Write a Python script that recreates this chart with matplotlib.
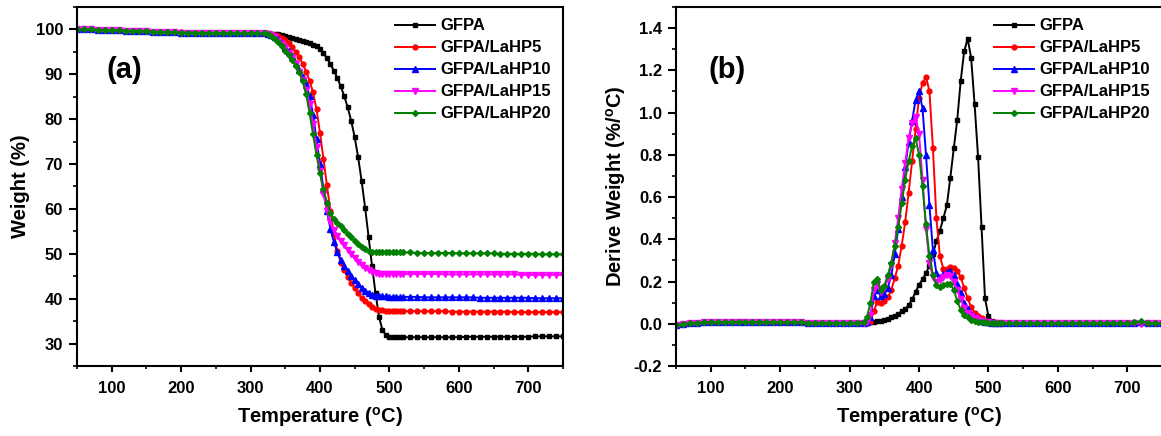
import matplotlib
matplotlib.use("Agg")
import matplotlib.pyplot as plt
from matplotlib.ticker import MultipleLocator

plt.rcParams['font.family'] = ['Liberation Sans', 'DejaVu Sans']
plt.rcParams['font.weight'] = 'bold'
plt.rcParams['mathtext.fontset'] = 'custom'
plt.rcParams['mathtext.rm'] = 'Liberation Sans:bold'
plt.rcParams['mathtext.bf'] = 'Liberation Sans:bold'

# temperature grid (degC)
temp = [50, 60, 70, 80, 90, 100, 110, 120, 130, 140, 150, 160, 170, 180, 190, 200,
        210, 220, 230, 240, 250, 260, 270, 280, 290, 300, 310, 320,
        325, 330, 335, 340, 345, 350, 355, 360, 365, 370, 375, 380, 385, 390, 395, 400,
        405, 410, 415, 420, 425, 430, 435, 440, 445, 450, 455, 460, 465, 470, 475, 480,
        485, 490, 495, 500, 505, 510, 515,
        520, 530, 540, 550, 560, 570, 580, 590, 600, 610, 620, 630, 640, 650, 660, 670,
        680, 690, 700, 710, 720, 730, 740, 750]

labels = ['GFPA', 'GFPA/LaHP5', 'GFPA/LaHP10', 'GFPA/LaHP15', 'GFPA/LaHP20']

# TGA weight (%)
w_gfpa = [100.0, 100.0, 100.0, 99.9, 99.9, 99.8, 99.8, 99.7, 99.7, 99.6, 99.6, 99.5, 99.5, 99.4,
          99.4, 99.4, 99.3, 99.3, 99.3, 99.3, 99.2, 99.2, 99.2, 99.2, 99.2, 99.1, 99.1, 99.1,
          99.1, 99.0, 99.0, 98.9, 98.7, 98.5, 98.3, 98.1, 97.9, 97.7,
          97.5, 97.2, 96.9, 96.6, 96.2, 95.6, 94.7, 93.6, 92.3, 90.8,
          89.2, 87.3, 85.1, 82.6, 79.6, 76.0, 71.5, 66.2, 60.3, 53.8,
          47.3, 41.2, 36.0, 33.0, 31.9, 31.5, 31.4, 31.4, 31.4,
          31.4, 31.4, 31.4, 31.4, 31.4, 31.4, 31.4, 31.4, 31.4, 31.5, 31.5, 31.5,
          31.5, 31.5, 31.5, 31.5, 31.5, 31.5, 31.5, 31.6, 31.6, 31.6, 31.6, 31.6]
w_lahp5 = [100.0, 100.0, 100.0, 99.9, 99.9, 99.8, 99.8, 99.7, 99.7, 99.6, 99.6, 99.5, 99.5, 99.4,
           99.4, 99.4, 99.3, 99.3, 99.3, 99.2, 99.2, 99.2, 99.2, 99.2, 99.1, 99.1, 99.1, 99.1,
           99.0, 98.9, 98.8, 98.5, 98.1, 97.6, 96.9, 96.0, 95.0, 93.8,
           92.4, 90.6, 88.6, 86.0, 82.2, 77.0, 71.2, 65.3, 59.6, 54.5,
           50.6, 48.0, 46.3, 44.8, 43.5, 42.3, 41.2, 40.2, 39.4, 38.7,
           38.1, 37.7, 37.5, 37.4, 37.3, 37.3, 37.2, 37.2, 37.2,
           37.2, 37.2, 37.2, 37.2, 37.2, 37.2, 37.2, 37.1, 37.1, 37.1, 37.1, 37.1,
           37.1, 37.1, 37.1, 37.1, 37.0, 37.0, 37.0, 37.0, 37.0, 37.0, 37.0, 37.0]
w_lahp10 = [100.0, 100.0, 100.0, 99.9, 99.9, 99.8, 99.8, 99.7, 99.7, 99.6, 99.6, 99.5, 99.5, 99.4,
            99.4, 99.3, 99.3, 99.3, 99.3, 99.2, 99.2, 99.2, 99.2, 99.1, 99.1, 99.1, 99.1, 99.1,
            99.0, 98.8, 98.4, 97.8, 97.0, 96.1, 95.1, 94.0, 92.6, 91.0,
            89.4, 87.8, 85.2, 81.0, 75.5, 70.0, 64.5, 59.6, 55.6, 52.6,
            50.4, 48.7, 47.3, 46.2, 45.1, 44.1, 43.2, 42.4, 41.8, 41.3,
            40.9, 40.7, 40.6, 40.5, 40.5, 40.4, 40.4, 40.4, 40.4,
            40.4, 40.4, 40.4, 40.3, 40.3, 40.3, 40.3, 40.3, 40.3, 40.3, 40.3, 40.2,
            40.2, 40.2, 40.2, 40.2, 40.2, 40.2, 40.2, 40.1, 40.1, 40.1, 40.1, 40.1]
w_lahp15 = [100.0, 100.0, 100.0, 99.9, 99.9, 99.8, 99.8, 99.7, 99.7, 99.6, 99.6, 99.5, 99.5, 99.4,
            99.4, 99.3, 99.3, 99.3, 99.2, 99.2, 99.2, 99.2, 99.1, 99.1, 99.1, 99.1, 99.1, 99.1,
            99.0, 98.7, 98.2, 97.5, 96.7, 95.8, 94.8, 93.6, 92.2, 90.6,
            88.8, 86.6, 83.4, 79.0, 73.8, 68.4, 63.4, 59.6, 57.0, 55.3,
            54.0, 52.9, 51.9, 50.9, 49.9, 49.0, 48.2, 47.4, 46.8, 46.3,
            45.9, 45.7, 45.6, 45.5, 45.5, 45.5, 45.5, 45.5, 45.5,
            45.5, 45.5, 45.5, 45.5, 45.5, 45.5, 45.4, 45.4, 45.4, 45.4, 45.4, 45.4,
            45.4, 45.4, 45.4, 45.4, 45.4, 45.3, 45.3, 45.3, 45.3, 45.3, 45.3, 45.3]
w_lahp20 = [100.0, 100.0, 100.0, 99.9, 99.9, 99.8, 99.8, 99.7, 99.7, 99.6, 99.6, 99.5, 99.5, 99.4,
            99.4, 99.3, 99.3, 99.3, 99.2, 99.2, 99.2, 99.2, 99.1, 99.1, 99.1, 99.1, 99.1, 99.1,
            99.0, 98.6, 97.9, 97.1, 96.2, 95.3, 94.3, 93.2, 91.9, 90.4,
            88.4, 85.6, 81.4, 76.6, 72.0, 67.9, 64.5, 61.4, 59.2, 57.8,
            56.9, 56.1, 55.3, 54.5, 53.7, 52.9, 52.1, 51.5, 51.0, 50.7,
            50.5, 50.4, 50.4, 50.4, 50.3, 50.3, 50.3, 50.3, 50.3,
            50.3, 50.3, 50.2, 50.2, 50.2, 50.2, 50.2, 50.2, 50.1, 50.1, 50.1, 50.1,
            50.1, 50.1, 50.0, 50.0, 50.0, 50.0, 50.0, 50.0, 49.9, 49.9, 49.9, 49.9]

# DTG derivative weight (%/degC)
d_gfpa = [-0.005, 0.000, 0.003, 0.005, 0.006, 0.007, 0.008, 0.008, 0.009, 0.009, 0.009, 0.009, 0.009, 0.008,
          0.008, 0.007, 0.007, 0.006, 0.006, 0.005, 0.005, 0.004, 0.004, 0.004, 0.004, 0.004, 0.004, 0.004,
          0.004, 0.006, 0.009, 0.012, 0.015, 0.019, 0.024, 0.030, 0.038, 0.048,
          0.058, 0.070, 0.088, 0.115, 0.150, 0.185, 0.210, 0.240, 0.275, 0.330,
          0.390, 0.440, 0.500, 0.560, 0.690, 0.830, 0.965, 1.150, 1.290, 1.350,
          1.260, 1.040, 0.790, 0.460, 0.120, 0.035, 0.015, 0.008, 0.005,
          0.004, 0.003, 0.003, 0.003, 0.003, 0.003, 0.003, 0.003, 0.003, 0.003, 0.003, 0.003,
          0.003, 0.003, 0.003, 0.003, 0.003, 0.003, 0.003, 0.003, 0.003, 0.003, 0.003, 0.003]
d_lahp5 = [-0.005, 0.000, 0.003, 0.005, 0.006, 0.007, 0.008, 0.008, 0.009, 0.009, 0.009, 0.009, 0.009, 0.008,
           0.008, 0.007, 0.007, 0.006, 0.006, 0.005, 0.005, 0.004, 0.004, 0.004, 0.004, 0.004, 0.004, 0.004,
           0.005, 0.010, 0.060, 0.105, 0.100, 0.110, 0.125, 0.160, 0.215, 0.275,
           0.370, 0.480, 0.620, 0.770, 0.920, 1.070, 1.140, 1.170, 1.100, 0.830,
           0.500, 0.320, 0.260, 0.260, 0.270, 0.265, 0.250, 0.220, 0.170, 0.120,
           0.080, 0.050, 0.035, 0.025, 0.015, 0.010, 0.006, 0.004, 0.003,
           0.003, 0.003, 0.003, 0.003, 0.003, 0.003, 0.003, 0.003, 0.003, 0.003, 0.003, 0.003,
           0.003, 0.003, 0.003, 0.003, 0.003, 0.003, 0.003, 0.003, 0.002, 0.003, 0.003, 0.003]
d_lahp10 = [-0.005, 0.000, 0.003, 0.005, 0.006, 0.007, 0.008, 0.008, 0.009, 0.009, 0.009, 0.009, 0.009, 0.008,
            0.008, 0.007, 0.007, 0.006, 0.006, 0.005, 0.005, 0.004, 0.004, 0.004, 0.004, 0.004, 0.004, 0.005,
            0.010, 0.030, 0.130, 0.160, 0.130, 0.140, 0.170, 0.230, 0.330, 0.450,
            0.600, 0.740, 0.860, 0.960, 1.060, 1.100, 1.020, 0.800, 0.560, 0.350,
            0.240, 0.220, 0.235, 0.245, 0.250, 0.230, 0.190, 0.145, 0.100, 0.070,
            0.048, 0.032, 0.022, 0.015, 0.010, 0.007, 0.005, 0.004, 0.003,
            0.003, 0.003, 0.003, 0.003, 0.003, 0.003, 0.003, 0.003, 0.003, 0.003, 0.003, 0.003,
            0.003, 0.003, 0.003, 0.003, 0.003, 0.003, 0.003, 0.004, 0.008, 0.004, 0.003, 0.003]
d_lahp15 = [-0.005, 0.000, 0.003, 0.005, 0.006, 0.007, 0.008, 0.008, 0.009, 0.009, 0.009, 0.009, 0.009, 0.008,
            0.008, 0.007, 0.007, 0.006, 0.006, 0.005, 0.005, 0.004, 0.004, 0.004, 0.004, 0.004, 0.004, 0.005,
            0.010, 0.040, 0.160, 0.190, 0.150, 0.170, 0.210, 0.280, 0.380, 0.500,
            0.640, 0.760, 0.880, 0.950, 0.980, 0.900, 0.680, 0.450, 0.290, 0.220,
            0.200, 0.205, 0.220, 0.230, 0.225, 0.200, 0.160, 0.115, 0.075, 0.050,
            0.035, 0.025, 0.018, 0.012, 0.008, 0.006, 0.004, 0.003, 0.003,
            0.003, 0.003, 0.003, 0.003, 0.003, 0.003, 0.003, 0.003, 0.003, 0.003, 0.003, 0.003,
            0.003, 0.003, 0.003, 0.003, 0.003, 0.003, 0.003, 0.002, 0.001, 0.003, 0.003, 0.003]
d_lahp20 = [-0.005, 0.000, 0.003, 0.005, 0.006, 0.007, 0.008, 0.008, 0.009, 0.009, 0.009, 0.009, 0.009, 0.008,
            0.008, 0.007, 0.007, 0.006, 0.006, 0.005, 0.005, 0.004, 0.004, 0.004, 0.004, 0.004, 0.005, 0.008,
            0.030, 0.100, 0.200, 0.210, 0.160, 0.180, 0.230, 0.290, 0.370, 0.460,
            0.570, 0.680, 0.770, 0.840, 0.880, 0.800, 0.650, 0.470, 0.320, 0.230,
            0.185, 0.175, 0.185, 0.190, 0.190, 0.160, 0.110, 0.065, 0.040, 0.030,
            0.020, 0.015, 0.010, 0.008, 0.006, 0.005, 0.004, 0.003, 0.003,
            0.003, 0.003, 0.003, 0.003, 0.003, 0.003, 0.003, 0.003, 0.003, 0.003, 0.003, 0.003,
            0.003, 0.003, 0.003, 0.003, 0.003, 0.003, 0.003, 0.006, 0.012, 0.005, 0.003, 0.004]

colors = ['#000000', '#ff0000', '#0000ff', '#ff00ff', '#008000']
markers = ['s', 'o', '^', 'v', 'D']
msizes = [3.0, 3.5, 3.8, 3.8, 3.0]

fig = plt.figure(figsize=(11.61, 4.36), dpi=100)
ax1 = fig.add_axes([0.0663, 0.1606, 0.4186, 0.8234])
ax2 = fig.add_axes([0.5823, 0.1606, 0.4186, 0.8234])


def style(ax):
    for sp in ax.spines.values():
        sp.set_linewidth(1.5)
    ax.set_xlim(50, 750)
    ax.xaxis.set_major_locator(MultipleLocator(100))
    ax.xaxis.set_minor_locator(MultipleLocator(50))
    ax.tick_params(axis='x', which='major', direction='out', length=4, width=1.5, pad=7, labelsize=12)
    ax.tick_params(axis='x', which='minor', direction='out', length=2.5, width=1.2)
    ax.tick_params(axis='y', which='major', direction='out', length=6, width=1.5, pad=4, labelsize=12)
    ax.tick_params(axis='y', which='minor', direction='out', length=3, width=1.2)
    ax.set_xlabel(r'Temperature ($^{\rm o}$C)', fontsize=14.5, fontweight='bold', labelpad=6)
    ax.legend(loc='upper left', bbox_to_anchor=(0.655, 0.968), frameon=False, fontsize=12,
              handlelength=2.4, handletextpad=0.3, labelspacing=0.42, borderpad=0,
              borderaxespad=0)


for w, c, m, ms, lab in zip([w_gfpa, w_lahp5, w_lahp10, w_lahp15, w_lahp20],
                            colors, markers, msizes, labels):
    ax1.plot(temp, w, color=c, marker=m, markersize=ms, linewidth=1.4, label=lab)
ax1.set_ylim(25, 105)
ax1.yaxis.set_minor_locator(MultipleLocator(5))
ax1.set_yticks([30, 40, 50, 60, 70, 80, 90, 100])
ax1.set_ylabel('Weight (%)', fontsize=14.5, fontweight='bold', labelpad=4)
ax1.text(0.06, 0.825, '(a)', transform=ax1.transAxes, fontsize=21, fontweight='bold', va='center')
style(ax1)

for d, c, m, ms, lab in zip([d_gfpa, d_lahp5, d_lahp10, d_lahp15, d_lahp20],
                            colors, markers, msizes, labels):
    ax2.plot(temp, d, color=c, marker=m, markersize=ms, linewidth=1.4, label=lab)
ax2.set_ylim(-0.2, 1.5)
ax2.yaxis.set_minor_locator(MultipleLocator(0.1))
ax2.set_yticks([-0.2, 0.0, 0.2, 0.4, 0.6, 0.8, 1.0, 1.2, 1.4])
ax2.set_yticklabels(['-0.2', '0.0', '0.2', '0.4', '0.6', '0.8', '1.0', '1.2', '1.4'])
ax2.set_ylabel(r'Derive Weight (%/$^{\rm o}$C)', fontsize=14.5, fontweight='bold', labelpad=4)
ax2.text(0.066, 0.825, '(b)', transform=ax2.transAxes, fontsize=21, fontweight='bold', va='center')
style(ax2)

fig.savefig('out.png', dpi=100)
